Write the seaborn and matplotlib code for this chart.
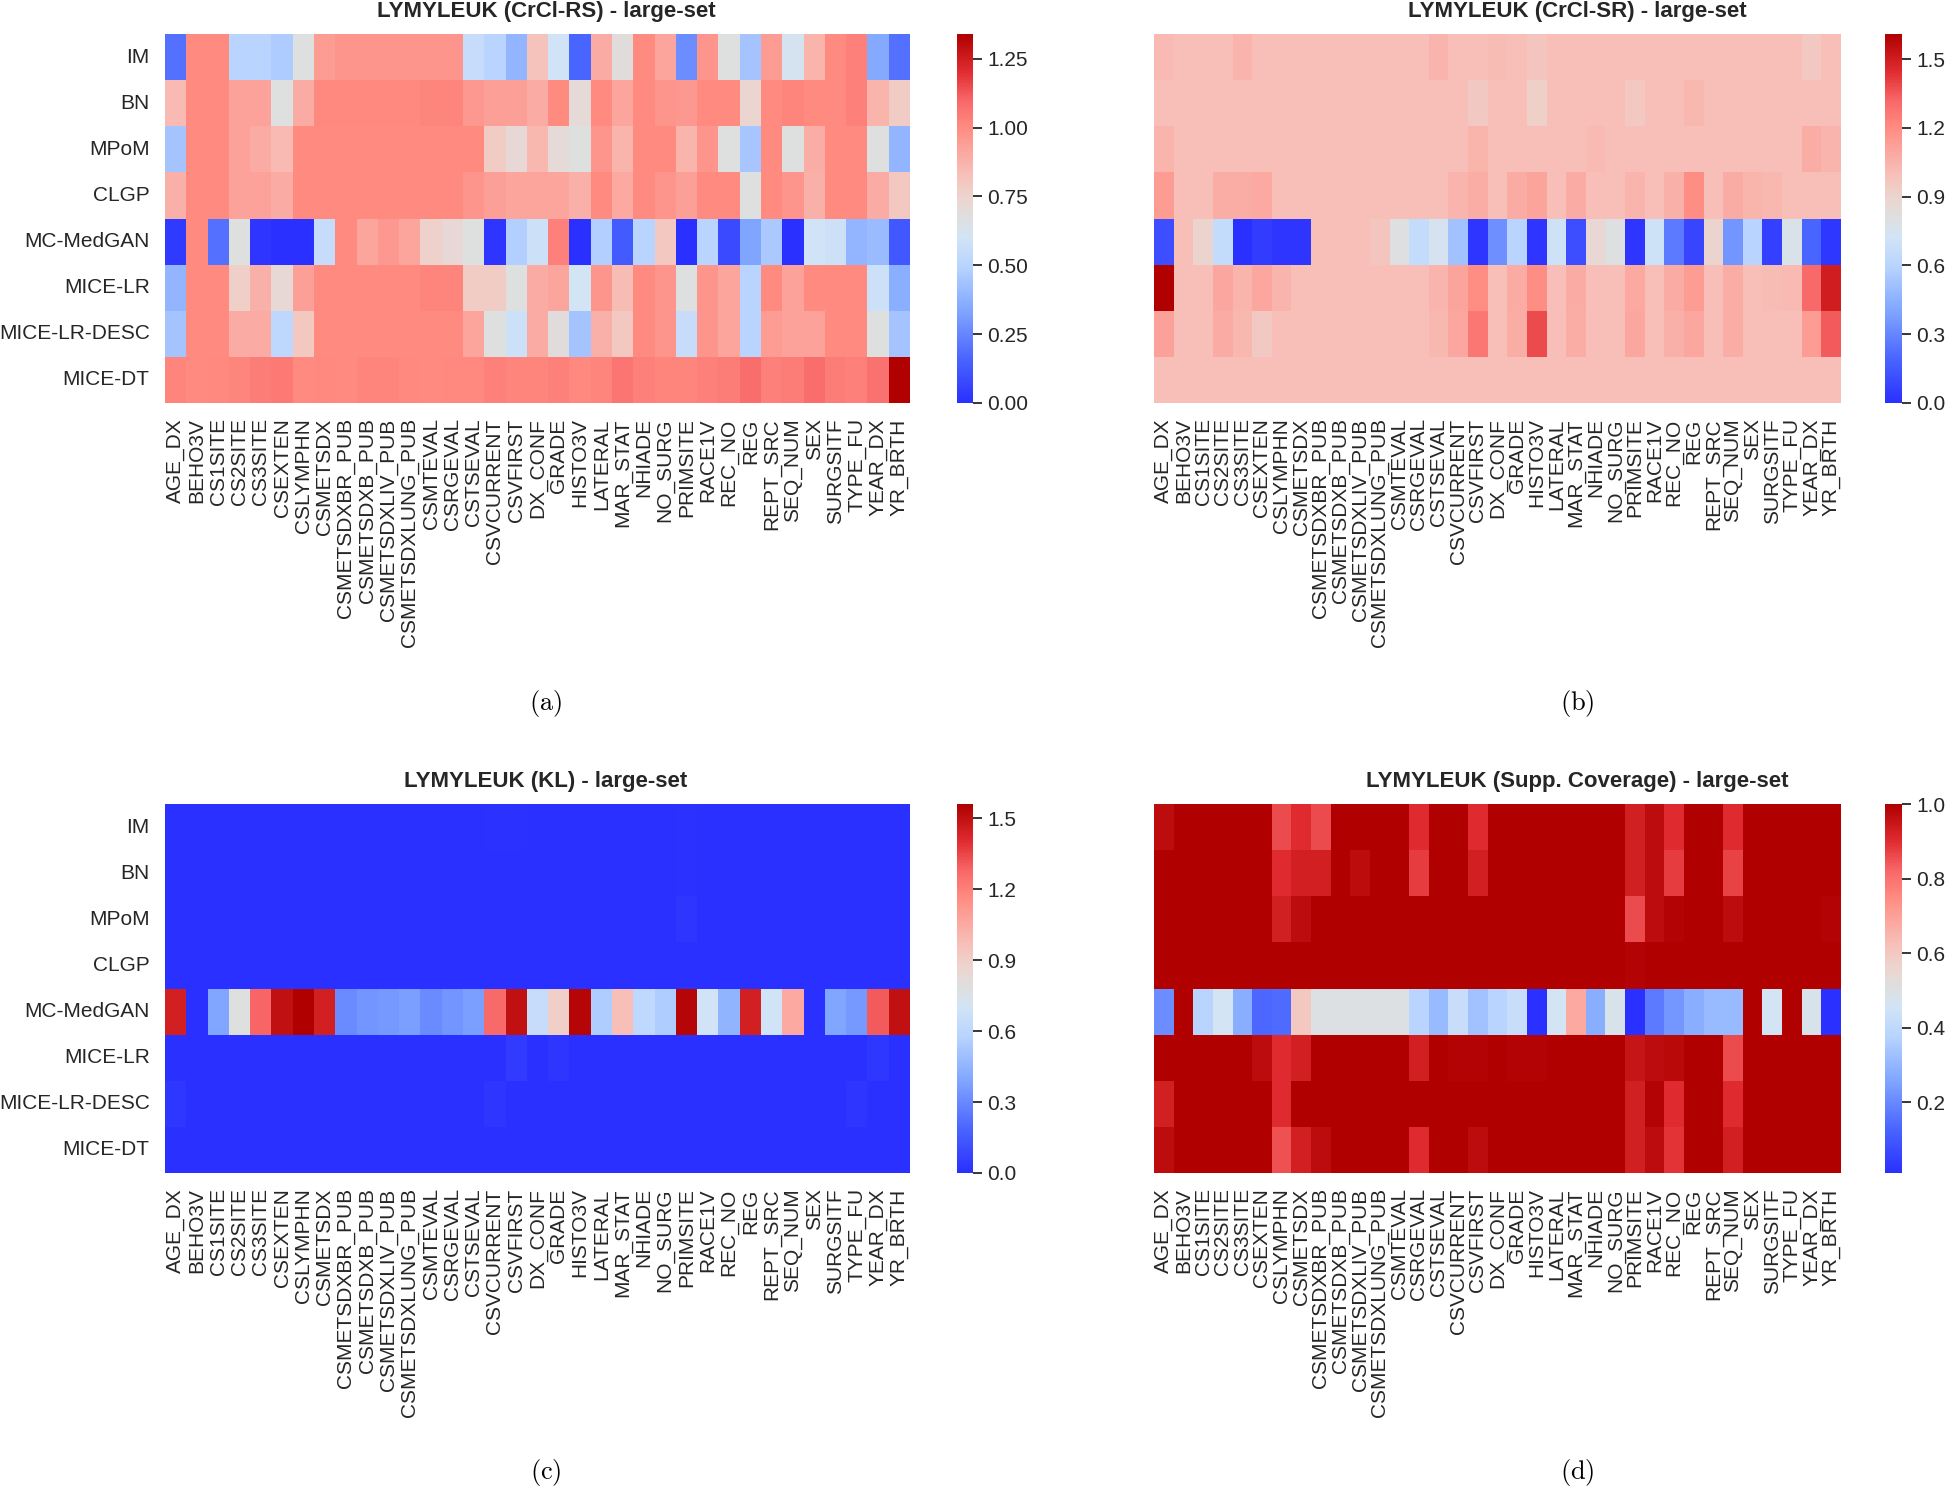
import numpy as np
import pandas as pd
import matplotlib
matplotlib.use("Agg")
import matplotlib.pyplot as plt
from matplotlib.colors import LinearSegmentedColormap
import seaborn as sns

# ── Data ──────────────────────────────────────────────────────────────────────
ROWS = ["IM", "BN", "MPoM", "CLGP", "MC-MedGAN", "MICE-LR", "MICE-LR-DESC", "MICE-DT"]

COLS = ["AGE_DX", "BEHO3V", "CS1SITE", "CS2SITE", "CS3SITE", "CSEXTEN", "CSLYMPHN",
        "CSMETSDX", "CSMETSDXBR_PUB", "CSMETSDXB_PUB", "CSMETSDXLIV_PUB",
        "CSMETSDXLUNG_PUB", "CSMTEVAL", "CSRGEVAL", "CSTSEVAL", "CSVCURRENT",
        "CSVFIRST", "DX_CONF", "GRADE", "HISTO3V", "LATERAL", "MAR_STAT", "NHIADE",
        "NO_SURG", "PRIMSITE", "RACE1V", "REC_NO", "REG", "REPT_SRC", "SEQ_NUM",
        "SEX", "SURGSITF", "TYPE_FU", "YEAR_DX", "YR_BRTH"]

CRCL_RS = [
    [0.19, 1.00, 1.00, 0.50, 0.50, 0.47, 0.67, 0.95, 0.97, 0.97, 0.97, 0.97, 0.97, 0.97, 0.55, 0.50, 0.39, 0.82,
     0.60, 0.16, 0.90, 0.69, 1.00, 0.92, 0.27, 0.97, 0.67, 0.44, 0.95, 0.62, 0.87, 1.00, 1.03, 0.35, 0.19],
    [0.85, 1.00, 1.00, 0.93, 0.93, 0.67, 0.90, 1.01, 1.01, 1.01, 1.01, 1.01, 1.02, 1.02, 0.96, 0.94, 0.94, 0.90,
     1.00, 0.71, 1.00, 0.92, 1.00, 0.97, 0.96, 1.00, 1.00, 0.74, 1.00, 1.02, 1.00, 1.00, 1.03, 0.87, 0.78],
    [0.44, 1.00, 1.00, 0.93, 0.90, 0.85, 1.00, 1.00, 1.00, 1.00, 1.00, 1.00, 1.00, 1.00, 1.00, 0.78, 0.72, 0.86,
     0.71, 0.67, 0.97, 0.87, 1.00, 1.00, 0.87, 0.97, 0.67, 0.45, 1.00, 0.67, 0.89, 1.00, 1.00, 0.67, 0.39],
    [0.88, 1.00, 1.00, 0.93, 0.93, 0.90, 1.00, 1.00, 1.00, 1.00, 1.00, 1.00, 1.00, 1.00, 0.97, 0.94, 0.92, 0.92,
     0.92, 0.88, 1.00, 0.91, 1.00, 0.97, 0.94, 1.00, 1.00, 0.67, 1.00, 0.97, 0.88, 1.00, 1.00, 0.90, 0.80],
    [0.03, 1.00, 0.19, 0.67, 0.02, 0.00, 0.00, 0.55, 1.00, 0.92, 0.96, 0.92, 0.76, 0.72, 0.67, 0.02, 0.48, 0.58,
     1.03, 0.00, 0.48, 0.13, 0.50, 0.80, 0.00, 0.50, 0.08, 0.33, 0.46, 0.00, 0.60, 0.58, 0.39, 0.41, 0.12],
    [0.39, 1.00, 1.00, 0.77, 0.88, 0.72, 0.94, 1.00, 1.00, 1.00, 1.00, 1.00, 1.02, 1.02, 0.78, 0.78, 0.67, 0.90,
     0.92, 0.61, 0.97, 0.84, 1.00, 0.97, 0.67, 0.97, 0.92, 0.50, 1.00, 0.93, 1.00, 1.00, 1.00, 0.58, 0.37],
    [0.44, 1.00, 1.00, 0.90, 0.90, 0.52, 0.80, 1.00, 1.00, 1.00, 1.00, 1.00, 1.00, 1.00, 0.92, 0.67, 0.58, 0.90,
     0.69, 0.44, 0.88, 0.80, 1.00, 0.97, 0.55, 0.97, 0.92, 0.50, 0.95, 0.93, 0.93, 1.00, 1.00, 0.67, 0.44],
    [1.02, 1.00, 1.01, 1.02, 1.04, 1.05, 1.00, 1.01, 1.00, 1.02, 1.02, 1.01, 1.00, 1.01, 1.01, 1.03, 1.02, 1.02,
     1.03, 1.01, 1.02, 1.06, 1.03, 1.02, 1.02, 1.03, 1.04, 1.08, 1.03, 1.04, 1.08, 1.04, 1.03, 1.07, 1.34],
]

CRCL_SR = [
    [1.02, 1.00, 1.00, 1.00, 1.04, 1.00, 1.00, 1.00, 1.00, 1.00, 1.00, 1.00, 1.00, 1.00, 1.04, 1.00, 1.00, 1.01,
     1.00, 0.97, 1.00, 1.00, 1.00, 1.00, 1.00, 1.00, 1.00, 1.00, 1.00, 1.00, 1.00, 1.00, 1.00, 0.95, 1.00],
    [1.00, 1.00, 1.00, 1.00, 1.00, 1.00, 1.00, 1.00, 1.00, 1.00, 1.00, 1.00, 1.00, 1.00, 1.00, 1.00, 0.95, 1.00,
     1.00, 0.92, 1.00, 1.00, 1.00, 1.00, 0.96, 1.00, 1.00, 1.03, 1.00, 1.00, 1.00, 1.00, 1.00, 1.00, 1.00],
    [1.05, 1.00, 1.00, 1.00, 1.00, 1.00, 1.00, 1.00, 1.00, 1.00, 1.00, 1.00, 1.00, 1.00, 1.00, 1.00, 1.05, 1.00,
     1.00, 1.00, 1.00, 1.00, 1.02, 1.00, 1.00, 1.00, 1.00, 1.00, 1.00, 1.00, 1.00, 1.00, 1.00, 1.07, 1.04],
    [1.14, 1.00, 1.00, 1.07, 1.07, 1.09, 1.00, 1.00, 1.00, 1.00, 1.00, 1.00, 1.00, 1.00, 1.00, 1.04, 1.07, 1.00,
     1.08, 1.11, 1.00, 1.08, 1.00, 1.00, 1.04, 1.00, 1.06, 1.19, 1.00, 1.08, 1.05, 1.03, 1.00, 1.00, 1.00],
    [0.11, 1.00, 0.90, 0.66, 0.00, 0.05, 0.02, 0.02, 1.00, 1.00, 1.00, 0.97, 0.80, 0.66, 0.75, 0.52, 0.02, 0.33,
     0.60, 0.02, 0.71, 0.11, 0.87, 0.80, 0.02, 0.71, 0.26, 0.08, 0.90, 0.35, 0.60, 0.06, 0.77, 0.19, 0.03],
    [1.61, 1.00, 1.00, 1.10, 1.05, 1.10, 1.04, 1.00, 1.00, 1.00, 1.00, 1.00, 1.00, 1.00, 1.04, 1.11, 1.19, 1.00,
     1.08, 1.19, 1.00, 1.08, 1.00, 1.00, 1.09, 1.00, 1.08, 1.14, 1.00, 1.07, 1.00, 1.01, 1.02, 1.31, 1.50],
    [1.12, 1.00, 1.00, 1.08, 1.03, 0.95, 1.00, 1.00, 1.00, 1.00, 1.00, 1.00, 1.00, 1.00, 1.03, 1.10, 1.27, 1.00,
     1.07, 1.38, 1.00, 1.07, 1.00, 1.00, 1.10, 1.00, 1.06, 1.10, 1.00, 1.07, 1.00, 1.00, 1.00, 1.14, 1.35],
    [1.00, 1.00, 1.00, 1.00, 1.00, 1.00, 1.00, 1.00, 1.00, 1.00, 1.00, 1.00, 1.00, 1.00, 1.00, 1.00, 1.00, 1.00,
     1.00, 1.00, 1.00, 1.00, 1.00, 1.00, 1.00, 1.00, 1.00, 1.00, 1.00, 1.00, 1.00, 1.00, 1.00, 1.00, 1.00],
]

KL = [
    [0.00, 0.00, 0.00, 0.00, 0.00, 0.00, 0.00, 0.00, 0.00, 0.00, 0.00, 0.00, 0.00, 0.00, 0.00, 0.01, 0.01, 0.00,
     0.00, 0.00, 0.00, 0.00, 0.00, 0.00, 0.01, 0.00, 0.00, 0.00, 0.00, 0.00, 0.00, 0.00, 0.00, 0.00, 0.00],
    [0.00, 0.00, 0.00, 0.00, 0.00, 0.00, 0.00, 0.00, 0.00, 0.00, 0.00, 0.00, 0.00, 0.00, 0.00, 0.00, 0.00, 0.00,
     0.00, 0.00, 0.00, 0.00, 0.00, 0.00, 0.01, 0.00, 0.00, 0.00, 0.00, 0.00, 0.00, 0.00, 0.00, 0.00, 0.00],
    [0.00, 0.00, 0.00, 0.00, 0.00, 0.00, 0.00, 0.00, 0.00, 0.00, 0.00, 0.00, 0.00, 0.00, 0.00, 0.00, 0.00, 0.00,
     0.00, 0.00, 0.00, 0.00, 0.00, 0.00, 0.02, 0.00, 0.00, 0.00, 0.00, 0.00, 0.00, 0.00, 0.00, 0.00, 0.00],
    [0.00, 0.00, 0.00, 0.00, 0.00, 0.00, 0.00, 0.00, 0.00, 0.00, 0.00, 0.00, 0.00, 0.00, 0.00, 0.00, 0.00, 0.00,
     0.00, 0.00, 0.00, 0.00, 0.00, 0.00, 0.00, 0.00, 0.00, 0.00, 0.00, 0.00, 0.00, 0.00, 0.00, 0.00, 0.00],
    [1.45, 0.00, 0.39, 0.78, 1.28, 1.50, 1.56, 1.45, 0.31, 0.34, 0.35, 0.37, 0.31, 0.34, 0.37, 1.27, 1.50, 0.64,
     0.90, 1.54, 0.55, 0.97, 0.61, 0.55, 1.54, 0.69, 0.45, 1.45, 0.69, 1.06, 0.00, 0.39, 0.35, 1.31, 1.50],
    [0.00, 0.00, 0.00, 0.00, 0.00, 0.00, 0.00, 0.00, 0.00, 0.00, 0.00, 0.00, 0.00, 0.00, 0.00, 0.00, 0.04, 0.00,
     0.02, 0.00, 0.00, 0.00, 0.00, 0.00, 0.00, 0.00, 0.00, 0.00, 0.00, 0.00, 0.00, 0.00, 0.00, 0.03, 0.00],
    [0.03, 0.00, 0.00, 0.00, 0.00, 0.00, 0.00, 0.00, 0.00, 0.00, 0.00, 0.00, 0.00, 0.00, 0.00, 0.02, 0.00, 0.00,
     0.00, 0.00, 0.00, 0.00, 0.00, 0.00, 0.00, 0.00, 0.00, 0.00, 0.00, 0.00, 0.00, 0.00, 0.02, 0.00, 0.00],
    [0.00, 0.00, 0.00, 0.00, 0.00, 0.00, 0.00, 0.00, 0.00, 0.00, 0.00, 0.00, 0.00, 0.00, 0.00, 0.00, 0.00, 0.00,
     0.00, 0.00, 0.00, 0.00, 0.00, 0.00, 0.00, 0.00, 0.00, 0.00, 0.00, 0.00, 0.00, 0.00, 0.00, 0.00, 0.00],
]

SUPP_COV = [
    [0.97, 1.00, 1.00, 1.00, 1.00, 1.00, 0.86, 0.90, 0.86, 1.00, 1.00, 1.00, 1.00, 0.90, 1.00, 1.00, 0.90, 1.00,
     1.00, 1.00, 1.00, 1.00, 1.00, 1.00, 0.93, 0.97, 0.90, 1.00, 1.00, 0.90, 1.00, 1.00, 1.00, 1.00, 1.00],
    [1.00, 1.00, 1.00, 1.00, 1.00, 1.00, 0.90, 0.93, 0.93, 1.00, 0.97, 1.00, 1.00, 0.88, 1.00, 1.00, 0.93, 1.00,
     1.00, 1.00, 1.00, 1.00, 1.00, 1.00, 0.93, 0.97, 0.88, 1.00, 1.00, 0.87, 1.00, 1.00, 1.00, 1.00, 1.00],
    [1.00, 1.00, 1.00, 1.00, 1.00, 1.00, 0.93, 0.97, 1.00, 1.00, 1.00, 1.00, 1.00, 1.00, 1.00, 1.00, 1.00, 1.00,
     1.00, 1.00, 1.00, 1.00, 1.00, 1.00, 0.86, 0.97, 0.99, 1.00, 1.00, 0.97, 1.00, 1.00, 1.00, 1.00, 0.99],
    [1.00, 1.00, 1.00, 1.00, 1.00, 1.00, 1.00, 1.00, 1.00, 1.00, 1.00, 1.00, 1.00, 1.00, 1.00, 1.00, 1.00, 1.00,
     1.00, 1.00, 1.00, 1.00, 1.00, 1.00, 0.99, 1.00, 1.00, 1.00, 1.00, 1.00, 1.00, 1.00, 1.00, 1.00, 1.00],
    [0.21, 1.00, 0.38, 0.46, 0.28, 0.13, 0.14, 0.60, 0.50, 0.50, 0.50, 0.50, 0.50, 0.38, 0.31, 0.42, 0.33, 0.38,
     0.42, 0.01, 0.46, 0.68, 0.28, 0.48, 0.01, 0.17, 0.23, 0.28, 0.31, 0.31, 1.00, 0.46, 1.00, 0.48, 0.01],
    [1.00, 1.00, 1.00, 1.00, 1.00, 0.97, 0.90, 0.93, 1.00, 1.00, 1.00, 1.00, 1.00, 0.93, 1.00, 0.99, 0.99, 1.00,
     0.99, 0.99, 1.00, 1.00, 1.00, 1.00, 0.95, 0.97, 0.98, 1.00, 1.00, 0.86, 1.00, 1.00, 1.00, 1.00, 1.00],
    [0.93, 1.00, 1.00, 1.00, 1.00, 1.00, 0.90, 1.00, 1.00, 1.00, 1.00, 1.00, 1.00, 1.00, 1.00, 1.00, 1.00, 1.00,
     1.00, 1.00, 1.00, 1.00, 1.00, 1.00, 0.93, 0.99, 0.90, 1.00, 1.00, 0.90, 1.00, 1.00, 1.00, 1.00, 1.00],
    [0.97, 1.00, 1.00, 1.00, 1.00, 1.00, 0.85, 0.93, 0.97, 1.00, 1.00, 1.00, 1.00, 0.90, 1.00, 1.00, 0.97, 1.00,
     1.00, 1.00, 1.00, 1.00, 1.00, 1.00, 0.93, 0.97, 0.89, 1.00, 1.00, 0.93, 1.00, 1.00, 1.00, 1.00, 1.00],
]

TITLES = ["LYMYLEUK (CrCl-RS) - large-set", "LYMYLEUK (CrCl-SR) - large-set",
          "LYMYLEUK (KL) - large-set", "LYMYLEUK (Supp. Coverage) - large-set"]
CAPTIONS = ["(a)", "(b)", "(c)", "(d)"]
CBAR_TICKS = [[0.0, 0.25, 0.5, 0.75, 1.0, 1.25],
              [0.0, 0.3, 0.6, 0.9, 1.2, 1.5],
              [0.0, 0.3, 0.6, 0.9, 1.2, 1.5],
              [0.2, 0.4, 0.6, 0.8, 1.0]]
CBAR_FMT = ["{:.2f}", "{:.1f}", "{:.1f}", "{:.1f}"]

# ── Style ─────────────────────────────────────────────────────────────────────
CMAP = LinearSegmentedColormap.from_list("bwr_custom", [
    (0.00, "#2a30ff"), (0.12, "#4a66ff"), (0.25, "#80a6ff"), (0.37, "#b8d4ff"),
    (0.45, "#d2e4f6"), (0.50, "#dedfe0"), (0.56, "#ecd4ce"), (0.62, "#f7c0b8"),
    (0.70, "#fca098"), (0.75, "#ff8a80"), (0.82, "#f86868"), (0.90, "#e02c30"),
    (1.00, "#b00000"),
])

W, H = 1946, 1487

# pixel boxes (x0, y0, x1, y1) of heatmap / colorbar, title+caption centre x
LAYOUT = [
    dict(hm=(165, 34, 910, 403), cb=(957, 34, 973, 403), cx=546, top=34, cap_y=703, rows=True),
    dict(hm=(1154, 34, 1841, 403), cb=(1885, 34, 1902, 403), cx=1577, top=34, cap_y=703, rows=False),
    dict(hm=(165, 804, 910, 1173), cb=(957, 804, 973, 1173), cx=546, top=804, cap_y=1472, rows=True),
    dict(hm=(1154, 804, 1841, 1173), cb=(1885, 804, 1902, 1173), cx=1577, top=804, cap_y=1472, rows=False),
]


def box(x0, y0, x1, y1):
    return [x0 / W, 1 - y1 / H, (x1 - x0) / W, (y1 - y0) / H]


def main():
    sns.set_theme(style="white")
    plt.rcParams["font.family"] = ["Liberation Sans", "DejaVu Sans"]
    plt.rcParams["mathtext.fontset"] = "cm"

    fig = plt.figure(figsize=(W / 100, H / 100), dpi=100)

    for data, title, cap, ticks, fmt, lay in zip(
            [CRCL_RS, CRCL_SR, KL, SUPP_COV], TITLES, CAPTIONS, CBAR_TICKS, CBAR_FMT, LAYOUT):
        ax = fig.add_axes(box(*lay["hm"]))
        cax = fig.add_axes(box(*lay["cb"]))
        df = pd.DataFrame(np.array(data), index=ROWS, columns=COLS)
        sns.heatmap(df, ax=ax, cbar_ax=cax, cmap=CMAP,
                    xticklabels=True, yticklabels=lay["rows"])

        ax.tick_params(axis="both", length=0, pad=11, labelsize=15, colors="#262626")
        ax.set_xticklabels(COLS, rotation=90, fontsize=15)
        if lay["rows"]:
            ax.set_yticklabels(ROWS, rotation=0, fontsize=15)

        cax.set_yticks(ticks)
        cax.set_yticklabels([fmt.format(t) for t in ticks])
        cax.tick_params(axis="y", right=True, length=6.5, width=1.3, pad=4,
                        labelsize=15, colors="#262626")

        fig.text(lay["cx"] / W, 1 - (lay["top"] - 17) / H, title,
                 ha="center", va="baseline", fontsize=16, fontweight="bold", color="#262626")
        fig.text(lay["cx"] / W, 1 - lay["cap_y"] / H, r"$\mathrm{" + cap + "}$",
                 ha="center", va="center", fontsize=19, color="black")

    fig.savefig("out.png", dpi=100)
    plt.close(fig)


if __name__ == "__main__":
    main()
